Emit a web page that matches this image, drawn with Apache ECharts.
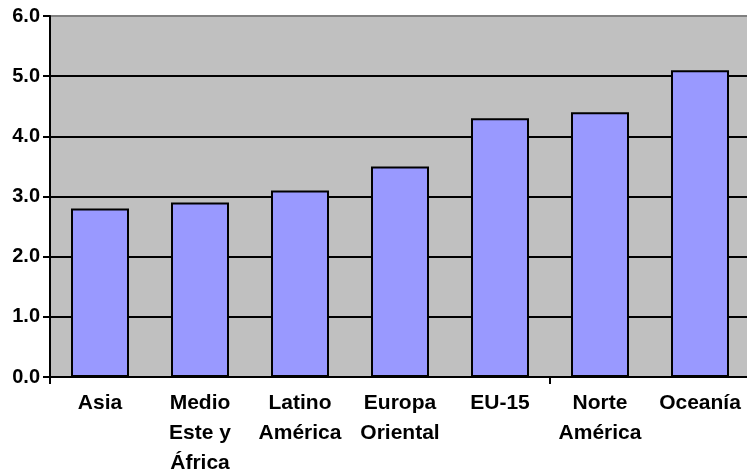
<!DOCTYPE html>
<html><head><meta charset="utf-8">
<script src="https://cdn.jsdelivr.net/npm/echarts@6/dist/echarts.min.js"></script>
<style>html,body{margin:0;padding:0;background:#fff}#c{width:747px;height:474px}</style>
</head><body><div id="c"></div>
<script>
const categories = ['Asia', 'Medio\nEste y\nÁfrica', 'Latino\nAmérica', 'Europa\nOriental', 'EU-15', 'Norte\nAmérica', 'Oceanía'];
const values = [2.8, 2.9, 3.1, 3.5, 4.3, 4.4, 5.1];
const yTicks = [0, 1, 2, 3, 4, 5, 6];
const xTickPositions = [0, 5];

const chart = echarts.init(document.getElementById('c'), null, {renderer: 'canvas'});
chart.setOption({
  animation: false,
  grid: {left: 50, top: 16, width: 700, height: 361, backgroundColor: '#C0C0C0', show: true, borderWidth: 0, containLabel: false, outerBoundsMode: 'none'},
  xAxis: [{
    type: 'category', data: categories, boundaryGap: true,
    axisLine: {lineStyle: {color: '#000', width: 2}},
    axisTick: {show: false},
    axisLabel: {interval: 0, color: '#000', fontFamily: 'Liberation Sans, Arial', fontWeight: 'bold', fontSize: 21, lineHeight: 30, margin: 11}
  }, {
    type: 'value', position: 'bottom', min: 0, max: categories.length, interval: 5,
    axisLine: {show: false},
    axisTick: {show: true, length: 7, customValues: xTickPositions, lineStyle: {color: '#000', width: 2}},
    axisLabel: {show: false},
    splitLine: {show: false}
  }],
  yAxis: {
    type: 'value', min: yTicks[0], max: yTicks[yTicks.length - 1], interval: 1,
    axisLine: {show: true, lineStyle: {color: '#000', width: 2}},
    axisTick: {show: true, length: 7, lineStyle: {color: '#000', width: 2}},
    axisLabel: {color: '#000', fontFamily: 'Liberation Sans, Arial', fontWeight: 'bold', fontSize: 20, margin: 10, formatter: v => v.toFixed(1)},
    splitLine: {show: true, lineStyle: {color: ['#000', '#000', '#000', '#000', '#000', '#000', '#808080'], width: 2}}
  },
  series: [{
    type: 'bar', data: values, barCategoryGap: '42%', xAxisIndex: 0,
    itemStyle: {color: '#9999FF', borderColor: '#000', borderWidth: 2}
  }]
});
</script></body></html>
